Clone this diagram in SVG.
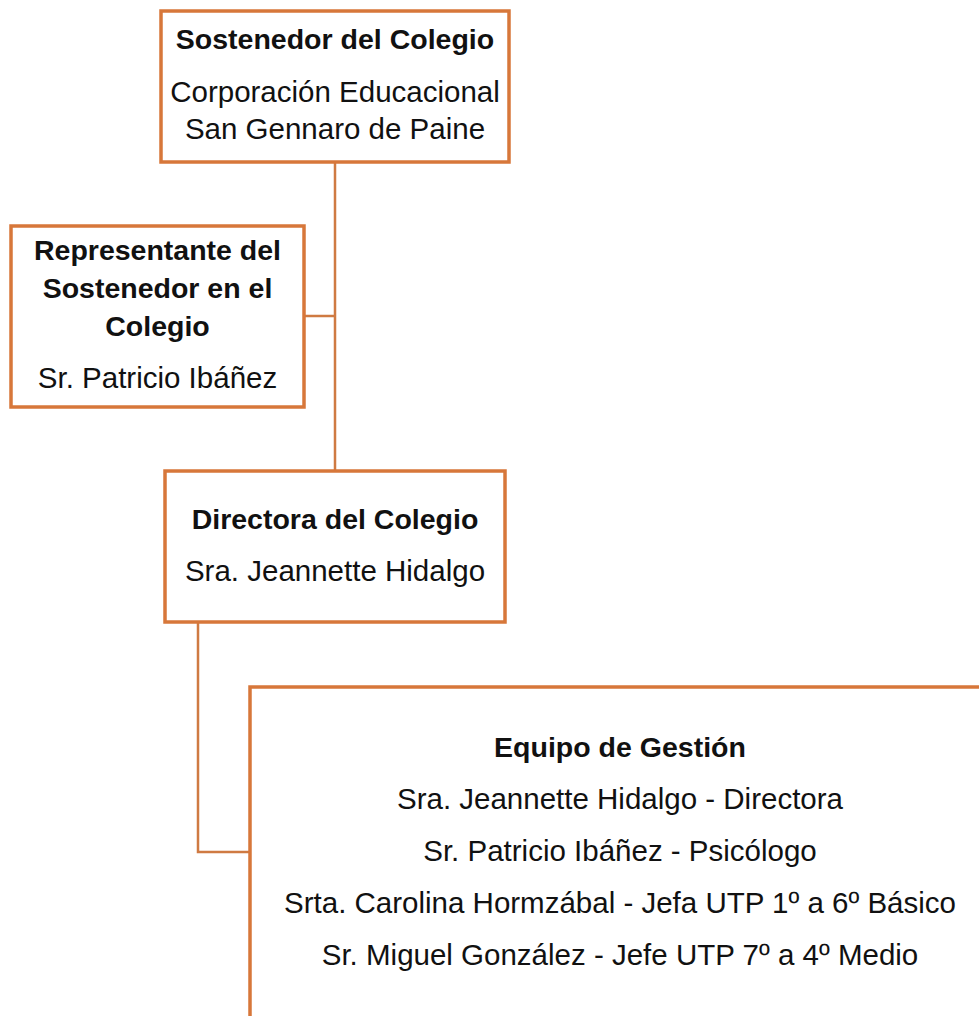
<svg xmlns="http://www.w3.org/2000/svg" width="979" height="1016" viewBox="0 0 979 1016">
<style>
.box{fill:#ffffff;stroke:#D7773A;stroke-width:3.5}
.con{fill:none;stroke:#CF7A42;stroke-width:2.5}
text{font-family:"Liberation Sans",Arial,sans-serif;fill:#111111;text-anchor:middle}
.b{font-weight:bold;font-size:28.5px}
.r{font-size:29.5px}
</style>
<rect width="979" height="1016" fill="#ffffff"/>
<g id="connectors">
<line class="con" x1="335" y1="162" x2="335" y2="471"/>
<line class="con" x1="304" y1="316" x2="335" y2="316"/>
<polyline class="con" points="198,622 198,852 250,852"/>
</g>
<g id="sostenedor">
<rect class="box" x="161" y="11" width="348" height="151"/>
<text class="b" x="335" y="49">Sostenedor del Colegio</text>
<text class="r" x="335" y="102">Corporación Educacional</text>
<text class="r" x="335" y="139">San Gennaro de Paine</text>
</g>
<g id="representante">
<rect class="box" x="11" y="226" width="293" height="181"/>
<text class="b" x="157.5" y="260">Representante del</text>
<text class="b" x="157.5" y="298">Sostenedor en el</text>
<text class="b" x="157.5" y="336">Colegio</text>
<text class="r" x="157.5" y="388">Sr. Patricio Ibáñez</text>
</g>
<g id="directora">
<rect class="box" x="165" y="471" width="340" height="151"/>
<text class="b" x="335" y="529">Directora del Colegio</text>
<text class="r" x="335" y="581">Sra. Jeannette  Hidalgo</text>
</g>
<g id="equipo">
<rect class="box" x="250" y="687" width="760" height="360"/>
<text class="b" x="620" y="757">Equipo de Gestión</text>
<text class="r" x="620" y="809">Sra. Jeannette Hidalgo - Directora</text>
<text class="r" x="620" y="861">Sr. Patricio Ibáñez - Psicólogo</text>
<text class="r" x="620" y="913">Srta. Carolina Hormzábal - Jefa UTP 1º a 6º Básico</text>
<text class="r" x="620" y="965">Sr. Miguel González - Jefe UTP 7º a 4º Medio</text>
</g>
</svg>
